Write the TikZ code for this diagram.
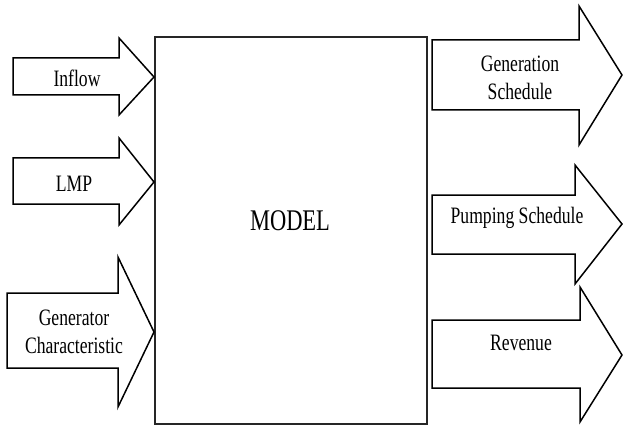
\documentclass[tikz,border=0pt]{standalone}
\usepackage{fontspec}
\setmainfont[FakeStretch=0.75]{Liberation Serif}
\usepackage{tikz}

\begin{document}
\begin{tikzpicture}[x=1pt,y=-1pt,
    blockarrow/.style={draw=black,line width=1.5pt,fill=white},
    modelbox/.style={draw=black!85,line width=1.4pt},
    lbl/.style={inner sep=0pt,align=center,font=\fontsize{23.5}{27.5}\selectfont},
    biglbl/.style={inner sep=0pt,font=\fontsize{30}{34}\selectfont}]
        \useasboundingbox (0,0) rectangle (624,425);
        \def\sl{13}   % left end of the input shafts
        \def\hb{119}  % base of the input heads
        \def\tip{154} % tips of the input arrows

        % --- Modell ---
        \draw[modelbox] (155,37) rectangle (427,424);
        \node[biglbl,anchor=base] (model) at (290,230) {MODEL};

        % --- Eingaenge ---
        \draw[blockarrow] (\sl,58) -- (\hb,58) -- (\hb,38) -- (\tip,77)
          -- (\hb,115) -- (\hb,95) -- (\sl,95) -- cycle;
        \draw[blockarrow] (\sl,158) -- (\hb,158) -- (\hb,138) -- (\tip,182)
          -- (\hb,225) -- (\hb,204) -- (\sl,204) -- cycle;
        \draw[blockarrow] (7,293) -- (118,293) -- (118,257) -- (\tip,332)
          -- (118,407) -- (118,368) -- (7,368) -- cycle;

        % --- Ausgaenge ---
        \draw[blockarrow] (432,40) -- (579,40) -- (579,6) -- (622,75)
          -- (579,145) -- (579,110) -- (432,110) -- cycle;
        \draw[blockarrow] (432,195) -- (575,195) -- (575,165) -- (622,224)
          -- (575,284) -- (575,254) -- (432,254) -- cycle;
        \draw[blockarrow] (432,320) -- (580,320) -- (580,287) -- (622,355)
          -- (580,422) -- (580,388) -- (432,388) -- cycle;

        % Beschriftung
        \node[lbl,anchor=base] (inflow) at (77,87) {Inflow};
        \node[lbl,anchor=base] (lmp) at (74,192) {LMP};
        \node[lbl] (gen) at (74,332) {Generator\\Characteristic};
        \node[lbl] (gensched) at (520,78) {Generation\\Schedule};
        \node[lbl,anchor=base] (pumpsched) at (517,223) {Pumping Schedule};
        \node[lbl,anchor=base] (revenue) at (521,350) {Revenue};
      \end{tikzpicture}
\end{document}
